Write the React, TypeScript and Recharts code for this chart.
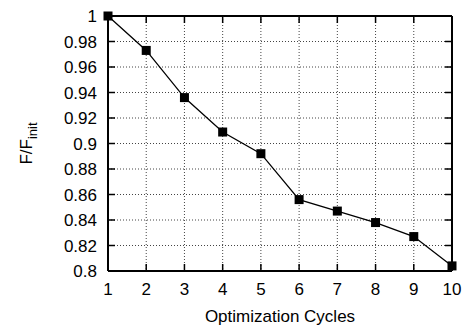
import { CartesianGrid, Line, LineChart, XAxis, YAxis } from "recharts";

// cycle numbers and normalised objective F/F_init
const cycles = [1, 2, 3, 4, 5, 6, 7, 8, 9, 10];
const ratio = [1.0, 0.973, 0.936, 0.909, 0.892, 0.856, 0.847, 0.838, 0.827, 0.804];
const xTicks = [1, 2, 3, 4, 5, 6, 7, 8, 9, 10];
const yTicks = [0.8, 0.82, 0.84, 0.86, 0.88, 0.9, 0.92, 0.94, 0.96, 0.98, 1];

const data = cycles.map((c, i) => ({ cycle: c, ratio: ratio[i] }));

const FONT = "'Liberation Sans', Arial, Helvetica, sans-serif";
const TICK_LEN = 7;

const fmt = (v: number) => String(Number(v.toFixed(2)));

const BottomTick = (props: any) => {
  const { x, y, payload } = props;
  return (
    <g>
      <line x1={x} y1={y} x2={x} y2={y - TICK_LEN} stroke="#000" strokeWidth={1.5} />
      <text x={x} y={y + 24} textAnchor="middle" fontSize={17} fontFamily={FONT} fill="#000">
        {fmt(payload.value)}
      </text>
    </g>
  );
};

const LeftTick = (props: any) => {
  const { x, y, payload } = props;
  return (
    <g>
      <line x1={x} y1={y} x2={x + TICK_LEN} y2={y} stroke="#000" strokeWidth={1.5} />
      <text x={x - 11} y={y + 6} textAnchor="end" fontSize={17} fontFamily={FONT} fill="#000">
        {fmt(payload.value)}
      </text>
    </g>
  );
};

// horizontal grid lines: dotted inside, solid on the frame, inward tick at the right edge
const HLine = (props: any) => {
  const { x1, x2, y1, index } = props;
  const edge = index === 0 || index === yTicks.length - 1;
  return (
    <g>
      {edge ? (
        <line x1={x1} y1={y1} x2={x2} y2={y1} stroke="#000" strokeWidth={2} />
      ) : (
        <line x1={x1} y1={y1} x2={x2} y2={y1} stroke="#444" strokeDasharray="1 2" />
      )}
      <line x1={x2} y1={y1} x2={x2 - TICK_LEN} y2={y1} stroke="#000" strokeWidth={1.5} />
    </g>
  );
};

// vertical grid lines with inward ticks on the top edge
const VLine = (props: any) => {
  const { x1, y1, y2, index } = props;
  const edge = index === 0 || index === xTicks.length - 1;
  return (
    <g>
      {edge ? (
        <line x1={x1} y1={y1} x2={x1} y2={y2} stroke="#000" strokeWidth={2} />
      ) : (
        <line x1={x1} y1={y1} x2={x1} y2={y2} stroke="#444" strokeDasharray="1 2" />
      )}
      <line x1={x1} y1={y1} x2={x1} y2={y1 + TICK_LEN} stroke="#000" strokeWidth={1.5} />
    </g>
  );
};

const SquareDot = (props: any) => {
  const { cx, cy } = props;
  return <rect x={cx - 4.5} y={cy - 4.5} width={9} height={9} fill="#000" />;
};

const YTitle = (props: any) => {
  const { viewBox } = props;
  const cy = viewBox.y + viewBox.height / 2;
  return (
    <text
      transform={`translate(32, ${cy}) rotate(-90)`}
      textAnchor="middle"
      fontSize={17}
      fontFamily={FONT}
      fill="#000"
    >
      F/F
      <tspan dy={5} fontSize={13}>init</tspan>
    </text>
  );
};

const App = () => {
  return (
    <div style={{ position: "absolute", left: 0, top: 0, background: "#fff" }}>
      <LineChart
        width={467}
        height={326}
        data={data}
        margin={{ top: 16, right: 15, left: 0, bottom: 0 }}
      >
        <CartesianGrid horizontal={<HLine />} vertical={<VLine />} />
        <XAxis
          dataKey="cycle"
          type="number"
          domain={[1, 10]}
          ticks={xTicks}
          height={55}
          tickSize={0}
          tickMargin={0}
          tickLine={false}
          tick={<BottomTick />}
          stroke="#000"
          strokeWidth={2}
          label={{
            value: "Optimization Cycles",
            position: "insideBottom",
            offset: 4,
            fontSize: 17,
            fontFamily: FONT,
            fill: "#000",
          }}
        />
        <YAxis
          type="number"
          domain={[0.8, 1]}
          ticks={yTicks}
          width={108}
          tickSize={0}
          tickMargin={0}
          tickLine={false}
          tick={<LeftTick />}
          stroke="#000"
          strokeWidth={2}
          label={<YTitle />}
        />
        <Line
          dataKey="ratio"
          stroke="#000"
          strokeWidth={1.3}
          dot={<SquareDot />}
          activeDot={false}
          isAnimationActive={false}
        />
      </LineChart>
    </div>
  );
};

export default App;
